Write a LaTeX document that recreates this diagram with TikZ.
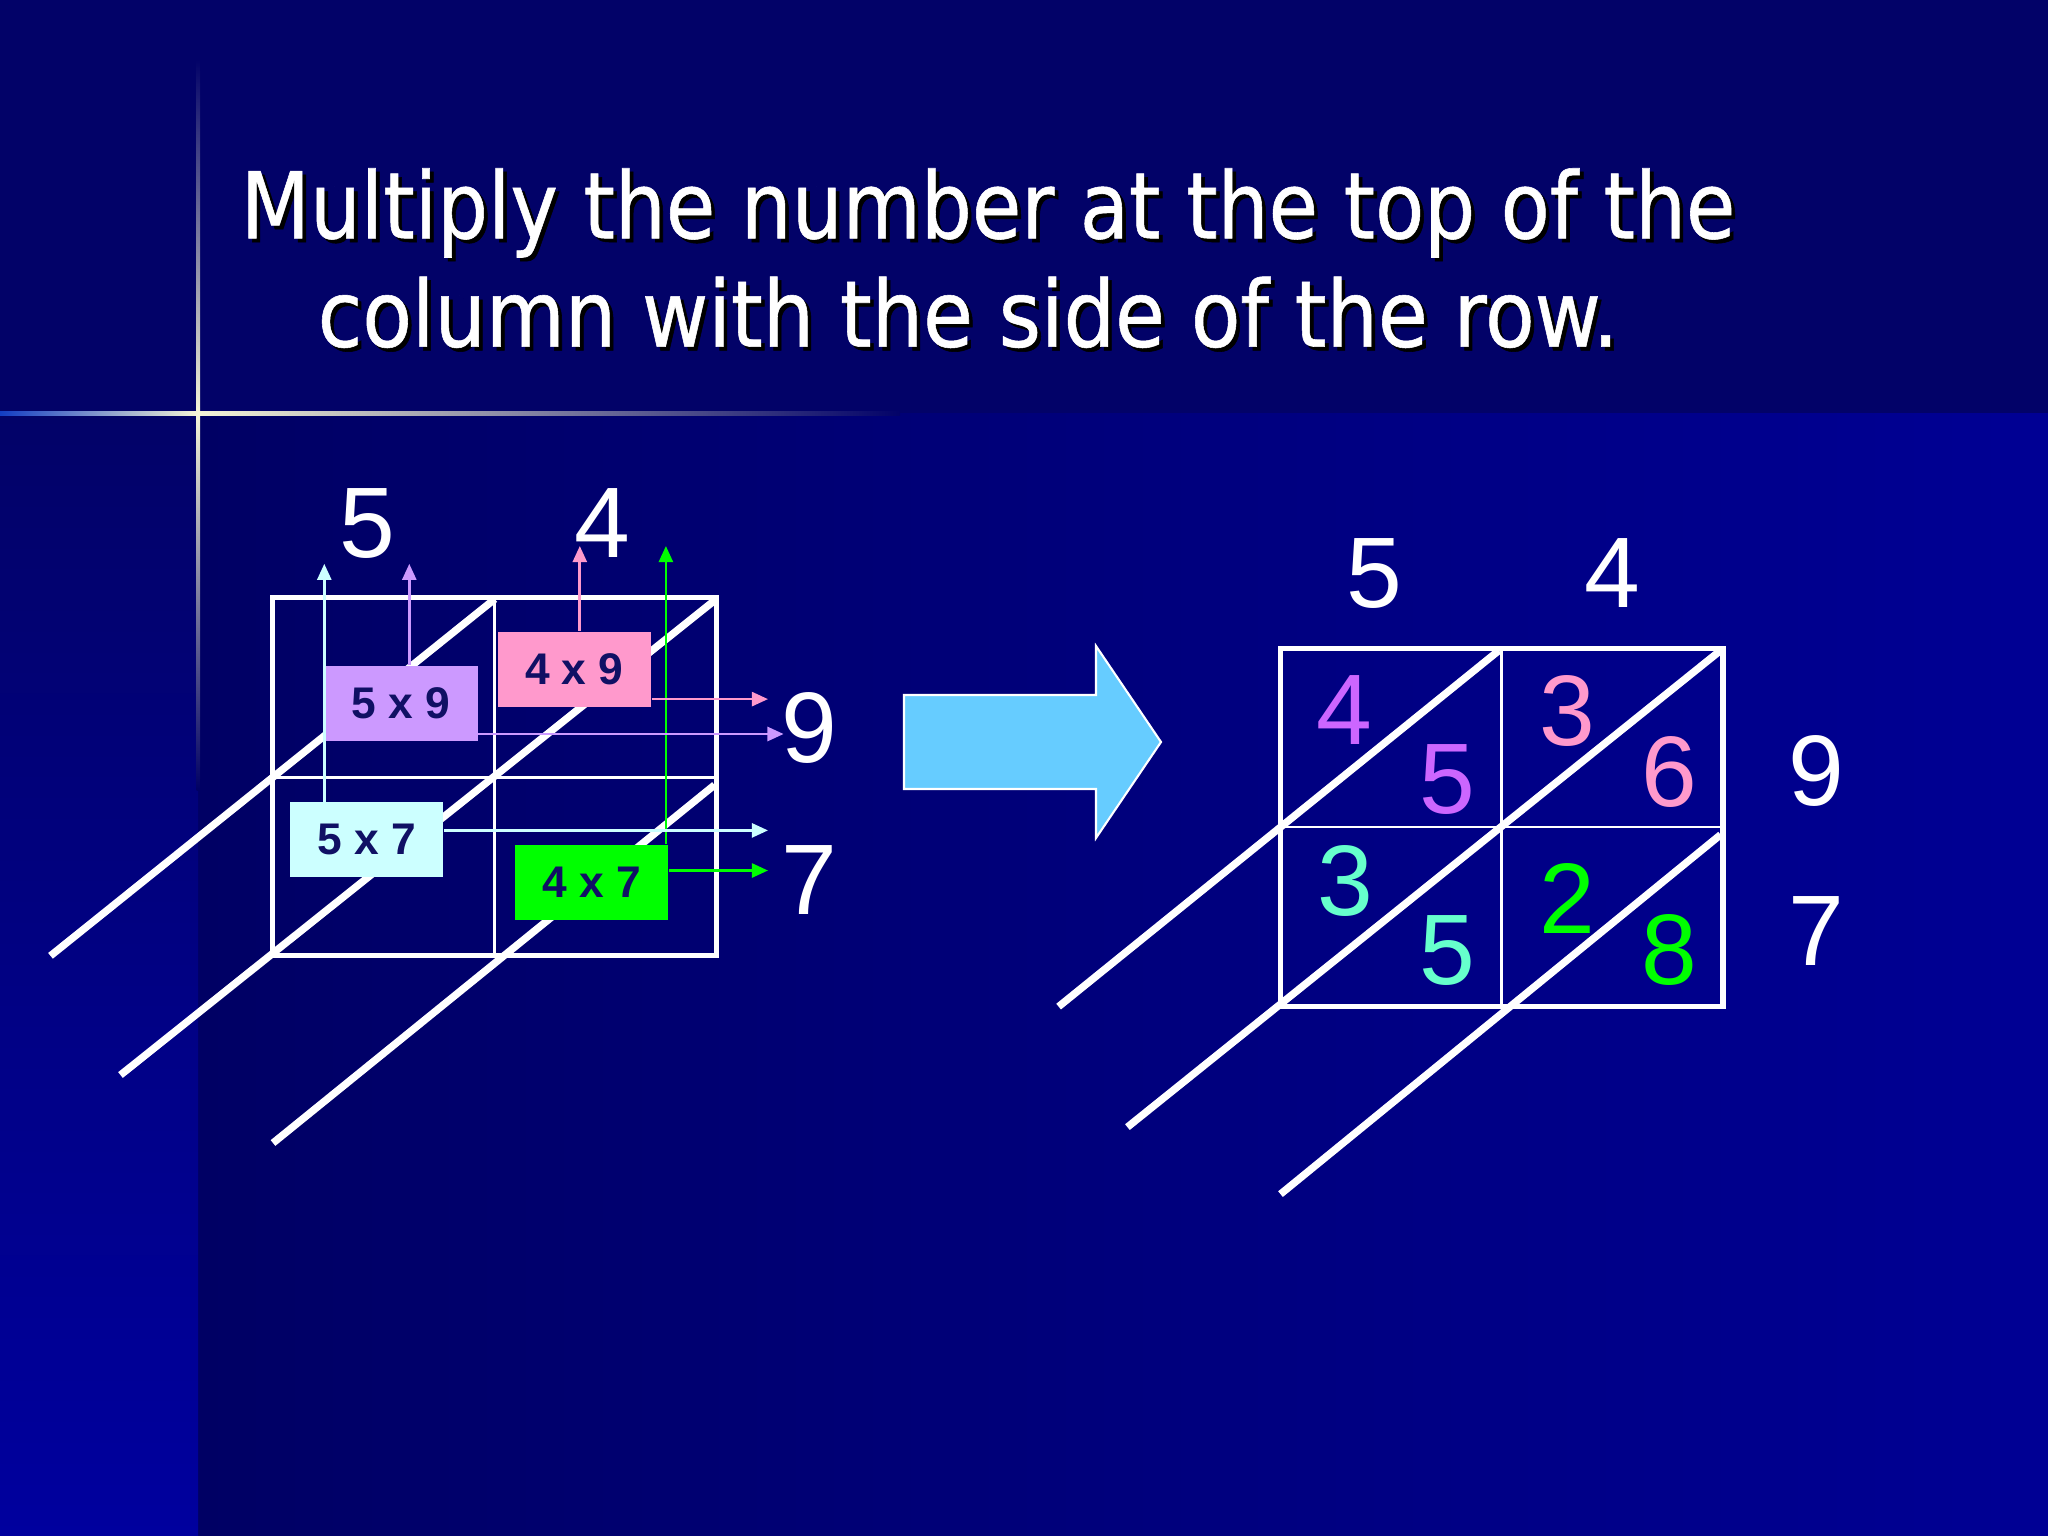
\documentclass[tikz,border=0pt]{standalone}
\usepackage{fontspec}
\usetikzlibrary{arrows.meta}
\newfontfamily\arialf{Liberation Sans}
\newfontfamily\titlef[FakeBold=0.6]{DejaVu Sans Condensed}
\definecolor{bgtop}{RGB}{2,2,104}
\definecolor{bgleft}{RGB}{0,0,100}
\definecolor{bgright}{RGB}{0,0,148}
\definecolor{bgstripbot}{RGB}{0,0,158}
\definecolor{glowblue}{RGB}{30,100,255}
\definecolor{glowwhite}{RGB}{245,245,215}
\definecolor{boxpurple}{RGB}{204,153,255}
\definecolor{boxpink}{RGB}{255,153,204}
\definecolor{boxcyan}{RGB}{204,255,255}
\definecolor{boxgreen}{RGB}{0,255,0}
\definecolor{boxtext}{RGB}{16,16,100}
\definecolor{digpurple}{RGB}{204,102,255}
\definecolor{digpink}{RGB}{255,153,204}
\definecolor{digaqua}{RGB}{102,255,204}
\definecolor{diggreen}{RGB}{0,255,0}
\definecolor{arrowfill}{RGB}{102,204,255}
\begin{document}
\begin{tikzpicture}[x=0.01cm,y=-0.01cm,
  dig/.style={anchor=base, inner sep=0, font=\arialf\fontsize{28.5}{34}\selectfont},
  prodbox/.style={fill=#1, minimum width=1.533cm, minimum height=0.75cm, inner sep=0,
    text=boxtext, font=\arialf\bfseries\fontsize{12.6}{14}\selectfont},
  outerline/.style={draw=white, line width=1.5pt},
  innerline/.style={draw=white, line width=0.75pt},
  diag/.style={draw=white, line width=2.1pt},
  conn/.style={line width=0.75pt, -{Triangle[length=4.6pt,width=4pt]}},
  titletext/.style={anchor=base west, inner sep=0}
]
\useasboundingbox (0,0) rectangle (2048,1536);
% background
\fill[bgtop] (0,0) rectangle (2048,1536);
\shade[left color=bgleft, right color=bgright] (198,413) rectangle (2048,1536);
\shade[top color=bgtop, bottom color=bgstripbot] (0,413) rectangle (198,1536);
% glowing cross
\shade[top color=bgtop, middle color=glowblue!70!bgtop, bottom color=glowwhite] (196.5,60) rectangle (200,413);
\shade[top color=glowwhite, middle color=glowblue, bottom color=bgleft] (196.5,413) rectangle (200,790);
\shade[left color=glowblue!60!bgtop, right color=glowwhite] (0,411) rectangle (198,415);
\shade[left color=glowwhite, middle color=glowblue, right color=bgtop] (198,411) rectangle (900,415);

% title with shadow
\node[titletext, text=black] (t1s) at (243.7,242) {\resizebox{14.94cm}{0.70cm}{\titlef\fontsize{26}{30}\selectfont Multiply the number at the top of the}};
\node[titletext, text=white] (t1) at (240,238.3) {\resizebox{14.94cm}{0.70cm}{\titlef\fontsize{26}{30}\selectfont Multiply the number at the top of the}};
\node[titletext, text=black] (t2s) at (320.7,350.4) {\resizebox{13.0cm}{0.70cm}{\titlef\fontsize{26}{30}\selectfont column with the side of the row.}};
\node[titletext, text=white] (t2) at (317,346.7) {\resizebox{13.0cm}{0.70cm}{\titlef\fontsize{26}{30}\selectfont column with the side of the row.}};

% ---------- left grid ----------
\draw[innerline] (494.8,597.3) -- (494.8,955.4);
\draw[innerline] (272.7,777.2) -- (716.4,777.2);
\draw[outerline] (272.7,597.3) rectangle (716.4,955.4);
\draw[diag] (494.8,599) -- (50.5,955.8);
\draw[diag] (716.4,599) -- (120.5,1075);
\draw[diag] (714.5,785) -- (273,1143);

% arrow tip coordinates
\coordinate (v57) at (324.3,563.8);
\coordinate (v59) at (409.3,563.8);
\coordinate (v49) at (579.8,546);
\coordinate (v47) at (665.9,546);
\coordinate (h49) at (768,699.1);
\coordinate (h59) at (783.6,734);
\coordinate (h57) at (768,830.4);
\coordinate (h47) at (768,870.5);

% product boxes
\node[prodbox=boxpurple] (b59) at (401,703.3) {5 x 9};
\node[prodbox=boxpink] (b49) at (574.3,669.2) {4 x 9};
\node[prodbox=boxcyan] (b57) at (366.7,839.8) {5 x 7};
\node[prodbox=boxgreen] (b47) at (591.7,882.5) {4 x 7};

% connectors
\draw[conn, boxcyan] (b57.north -| v57) -- (v57);
\draw[conn, boxpurple] (b59.north -| v59) -- (v59);
\draw[conn, boxpink] (b49.north -| v49) -- (v49);
\draw[conn, boxgreen] (b47.north -| v47) -- (v47);
\draw[conn, boxpink] (b49.east |- h49) -- (h49);
\draw[conn, boxpurple] (b59.east |- h59) -- (h59);
\draw[conn, boxcyan] (b57.east |- h57) -- (h57);
\draw[conn, boxgreen] (b47.east |- h47) -- (h47);

% left labels
\node[dig, text=white] (l5) at (367.4,557) {5};
\node[dig, text=white] (l4) at (602.7,557) {4};
\node[dig, text=white] (l9) at (809.4,762.5) {9};
\node[dig, text=white] (l7) at (809.4,914.3) {7};

% ---------- big arrow ----------
\filldraw[fill=arrowfill, draw=white, line width=0.6pt]
  (904,695) -- (1096,695) -- (1096,646) -- (1161,742) -- (1096,838) -- (1096,789) -- (904,789) -- cycle;

% ---------- right grid ----------
\draw[innerline] (1501.8,648.6) -- (1501.8,1006.6);
\draw[innerline] (1280.5,827.1) -- (1723,827.1);
\draw[outerline] (1280.5,648.6) rectangle (1723,1006.6);
\draw[diag] (1499,650.4) -- (1058.6,1006.6);
\draw[diag] (1720.6,650.4) -- (1127.4,1127.1);
\draw[diag] (1720.6,834.7) -- (1280.5,1194.1);

\node[dig, text=white] (r5) at (1374.3,607) {5};
\node[dig, text=white] (r4) at (1612,607) {4};
\node[dig, text=white] (r9) at (1816,805.7) {9};
\node[dig, text=white] (r7) at (1816,965.5) {7};

\node[dig, text=digpurple] (c11a) at (1344.3,744.6) {4};
\node[dig, text=digpurple] (c11b) at (1447.6,813.8) {5};
\node[dig, text=digpink] (c12a) at (1567.5,745.4) {3};
\node[dig, text=digpink] (c12b) at (1669.5,806.6) {6};
\node[dig, text=digaqua] (c21a) at (1345.6,915) {3};
\node[dig, text=digaqua] (c21b) at (1447.6,984.3) {5};
\node[dig, text=diggreen] (c22a) at (1567.5,933) {2};
\node[dig, text=diggreen] (c22b) at (1669.5,984.3) {8};
\end{tikzpicture}
\end{document}
